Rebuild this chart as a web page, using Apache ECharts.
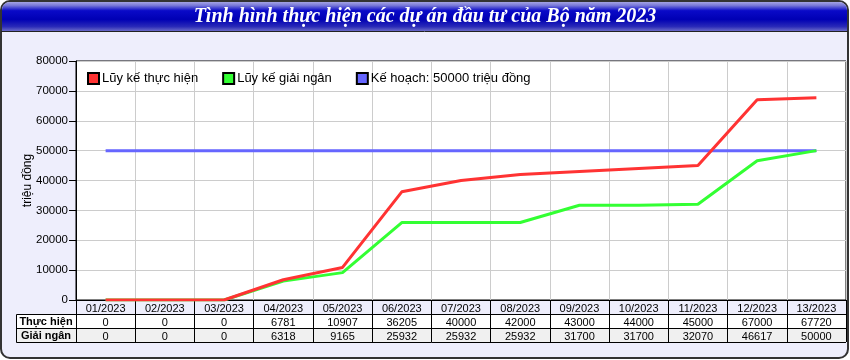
<!DOCTYPE html>
<html><head><meta charset="utf-8">
<script src="https://cdn.jsdelivr.net/npm/echarts@6/dist/echarts.min.js"></script>
<style>html,body{margin:0;padding:0;background:#fff}#c{width:850px;height:360px}</style>
</head><body><div id="c"></div>
<script>
var titleText = 'Tình hình thực hiện các dự án đầu tư của Bộ năm 2023';
var months = ['01/2023','02/2023','03/2023','04/2023','05/2023','06/2023','07/2023','08/2023','09/2023','10/2023','11/2023','12/2023','13/2023'];
var thucHien = [0,0,0,6781,10907,36205,40000,42000,43000,44000,45000,67000,67720];
var giaiNgan = [0,0,0,6318,9165,25932,25932,25932,31700,31700,32070,46617,50000];
var keHoach = [50000,50000,50000,50000,50000,50000,50000,50000,50000,50000,50000,50000,50000];
var yTicks = {min:0, max:80000, interval:10000};
var names = ['Lũy kế thực hiện','Lũy kế giải ngân','Kế hoạch: 50000 triệu đồng'];
var rowNames = ['Thực hiện','Giải ngân'];

var FONT = '"Liberation Sans", Arial, sans-serif';
var chart = echarts.init(document.getElementById('c'), null, {renderer:'canvas'});
var gl = 76, gt = 61, gw = 770, gh = 239;
var gb = gt + gh;

var option = {
  animation:false,
  textStyle:{fontFamily:FONT},
  graphic:[
    {type:'rect', z:-5, shape:{x:1,y:1,width:847,height:357,r:9}, style:{fill:'#EEEEFC', stroke:'#333', lineWidth:2}},
    {type:'rect', z:-4, shape:{x:2,y:2,width:845,height:29,r:[8,8,0,0]},
      style:{fill:new echarts.graphic.LinearGradient(0,0,0,1,[
        {offset:0,color:'#a4a4e4'},{offset:0.12,color:'#7878d8'},{offset:0.3,color:'#0a0ac8'},
        {offset:0.6,color:'#0000b4'},{offset:0.85,color:'#2a2ab8'},{offset:1,color:'#6a6ac8'}])}},
    {type:'line', z:-4, shape:{x1:1,y1:31.5,x2:848,y2:31.5}, style:{stroke:'#222', lineWidth:1}},
    {type:'text', z:10, x:425, y:17, style:{text:titleText, fill:'#fff', font:'italic bold 20px "Liberation Serif", "Times New Roman", serif', align:'center', verticalAlign:'middle'}},
    {type:'rect', z:-3, shape:{x:16,y:gb+14,width:gl+gw-16,height:14}, style:{fill:'#fff'}},
    {type:'rect', z:-3, shape:{x:16,y:gb+28,width:gl+gw-16,height:14}, style:{fill:'#f0f0f0'}},
    {type:'polyline', z:3, shape:{points:[[gl,gb+14.5],[16.5,gb+14.5],[16.5,gb+42.5],[gl+gw,gb+42.5]]}, style:{stroke:'#000', lineWidth:1, fill:null}},
    {type:'line', z:3, shape:{x1:16,y1:gb+28.5,x2:gl,y2:gb+28.5}, style:{stroke:'#000', lineWidth:1}},
    {type:'text', z:3, x:46, y:gb+21.5, style:{text:rowNames[0], font:'bold 11px '+FONT, fill:'#000', align:'center', verticalAlign:'middle'}},
    {type:'text', z:3, x:46, y:gb+35.5, style:{text:rowNames[1], font:'bold 11px '+FONT, fill:'#000', align:'center', verticalAlign:'middle'}}
  ],
  grid:{left:gl, top:gt, width:gw, height:gh, show:true, backgroundColor:'#fff', borderColor:'#000', borderWidth:1, containLabel:false},
  legend:{
    left:82, top:67, itemWidth:11, itemHeight:11, itemGap:24, icon:'rect',
    data:names,
    textStyle:{fontSize:13, color:'#000', fontFamily:FONT, padding:[0,0,0,-2]}
  },
  xAxis:[
    {type:'category', data:months, position:'bottom', boundaryGap:true,
     axisLine:{show:true, lineStyle:{color:'#000', width:1}},
     axisTick:{show:true, interval:0, length:42, lineStyle:{color:'#000'}},
     axisLabel:{interval:0, margin:3, fontSize:11, color:'#000', fontFamily:FONT},
     splitLine:{show:true, interval:0, lineStyle:{color:'#cccccc', width:1}}},
    {type:'category', data:thucHien.map(String), position:'bottom', offset:14, gridIndex:0,
     axisLine:{show:true, lineStyle:{color:'#000'}}, axisTick:{show:false},
     axisLabel:{interval:0, margin:3, fontSize:11, color:'#000', fontFamily:FONT}, splitLine:{show:false}},
    {type:'category', data:giaiNgan.map(String), position:'bottom', offset:28, gridIndex:0,
     axisLine:{show:true, lineStyle:{color:'#000'}}, axisTick:{show:false},
     axisLabel:{interval:0, margin:3, fontSize:11, color:'#000', fontFamily:FONT}, splitLine:{show:false}}
  ],
  yAxis:{type:'value', min:yTicks.min, max:yTicks.max, interval:yTicks.interval,
    name:'triệu đồng', nameLocation:'middle', nameGap:42, nameRotate:90, nameMoveOverlap:false,
    nameTextStyle:{fontSize:12, color:'#000', fontFamily:FONT},
    axisLine:{show:true, lineStyle:{color:'#000'}},
    axisTick:{show:true, length:7, lineStyle:{color:'#000'}},
    axisLabel:{fontSize:11.5, color:'#000', margin:8, fontFamily:FONT, formatter:function(v){return String(v);}},
    splitLine:{show:true, lineStyle:{color:'#cccccc', width:1}}},
  series:[
    {name:names[2], type:'line', data:keHoach, symbol:'none', lineStyle:{color:'#6666ff', width:3}, itemStyle:{color:'#6666ff', borderColor:'#000', borderWidth:1}},
    {name:names[1], type:'line', data:giaiNgan, symbol:'none', lineStyle:{color:'#33ff33', width:3}, itemStyle:{color:'#33ff33', borderColor:'#000', borderWidth:1}},
    {name:names[0], type:'line', data:thucHien, symbol:'none', lineStyle:{color:'#ff3333', width:3}, itemStyle:{color:'#ff3333', borderColor:'#000', borderWidth:1}}
  ]
};
chart.setOption(option);
</script></body></html>
